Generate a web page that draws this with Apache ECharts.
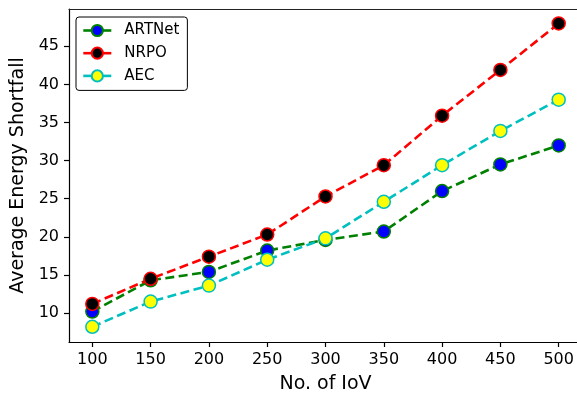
<!DOCTYPE html>
<html>
<head>
<meta charset="utf-8">
<script src="https://cdn.jsdelivr.net/npm/echarts@6/dist/echarts.min.js"></script>
<style>
html,body{margin:0;padding:0;background:#fff;}
#c{width:577px;height:396px;}
</style>
</head>
<body>
<div id="c"></div>
<script>
const xValues = [100, 150, 200, 250, 300, 350, 400, 450, 500];
const artnet = [10.2, 14.3, 15.4, 18.2, 19.6, 20.7, 26.0, 29.5, 32.0];
const nrpo = [11.2, 14.5, 17.4, 20.3, 25.3, 29.4, 35.9, 41.9, 48.0];
const aec = [8.2, 11.5, 13.6, 17.0, 19.8, 24.6, 29.4, 33.9, 38.0];
const xTicks = [100, 150, 200, 250, 300, 350, 400, 450, 500];
const yTicks = [10, 15, 20, 25, 30, 35, 40, 45];
const seriesNames = ['ARTNet', 'NRPO', 'AEC'];

const font = 'DejaVu Sans';
function pairs(ys) { return xValues.map((x, i) => [x, ys[i]]); }
function mk(name, data, lineColor, fillColor) {
  return {
    name: name, type: 'line', data: pairs(data),
    symbol: 'circle', symbolSize: 13,
    lineStyle: { color: lineColor, width: 2.6, type: [9, 4.5] },
    itemStyle: { color: fillColor, borderColor: lineColor, borderWidth: 1.5 },
    emphasis: { disabled: true },
    animation: false
  };
}
const chart = echarts.init(document.getElementById('c'), null, { renderer: 'canvas' });
chart.setOption({
  animation: false,
  textStyle: { fontFamily: font },
  grid: { left: 69, top: 9, width: 513, height: 333, outerBoundsMode: 'none', containLabel: false, show: false },
  legend: {
    left: 76, top: 17, orient: 'vertical',
    data: seriesNames,
    itemWidth: 28, itemHeight: 14, itemGap: 7.7,
    padding: [6, 8, 7, 6],
    borderColor: '#000', borderWidth: 1, borderRadius: 3, backgroundColor: '#fff',
    lineStyle: { type: 'solid', width: 2.6 },
    textStyle: { fontFamily: font, fontSize: 15, color: '#000', padding: [0, 0, 0, 8] }
  },
  xAxis: [{
    type: 'value', min: 80, max: 520,
    name: 'No. of IoV', nameLocation: 'middle', nameGap: 33,
    nameTextStyle: { fontFamily: font, fontSize: 19, color: '#000' },
    axisLine: { show: true, lineStyle: { color: '#000', width: 1.2 } },
    axisTick: { show: true, length: 5, lineStyle: { color: '#000', width: 1.2 }, customValues: xTicks },
    axisLabel: { fontFamily: font, fontSize: 16, color: '#000', margin: 10, customValues: xTicks },
    splitLine: { show: false }
  }, {
    type: 'value', min: 80, max: 520, position: 'top',
    axisLine: { show: true, lineStyle: { color: '#222', width: 1.2 } },
    axisTick: { show: false }, axisLabel: { show: false }, splitLine: { show: false }
  }],
  yAxis: {
    type: 'value', min: 6.2, max: 49.9,
    name: 'Average Energy Shortfall', nameLocation: 'middle', nameGap: 38, nameRotate: 90,
    nameTextStyle: { fontFamily: font, fontSize: 19, color: '#000' },
    axisLine: { show: true, lineStyle: { color: '#000', width: 1.2 } },
    axisTick: { show: true, length: 5, lineStyle: { color: '#000', width: 1.2 }, customValues: yTicks },
    axisLabel: { fontFamily: font, fontSize: 16, color: '#000', margin: 10, customValues: yTicks },
    splitLine: { show: false }
  },
  series: [
    mk(seriesNames[0], artnet, '#008000', '#0000ff'),
    mk(seriesNames[1], nrpo, '#ff0000', '#000000'),
    mk(seriesNames[2], aec, '#00bfbf', '#ffff00')
  ]
});
</script>
</body>
</html>
